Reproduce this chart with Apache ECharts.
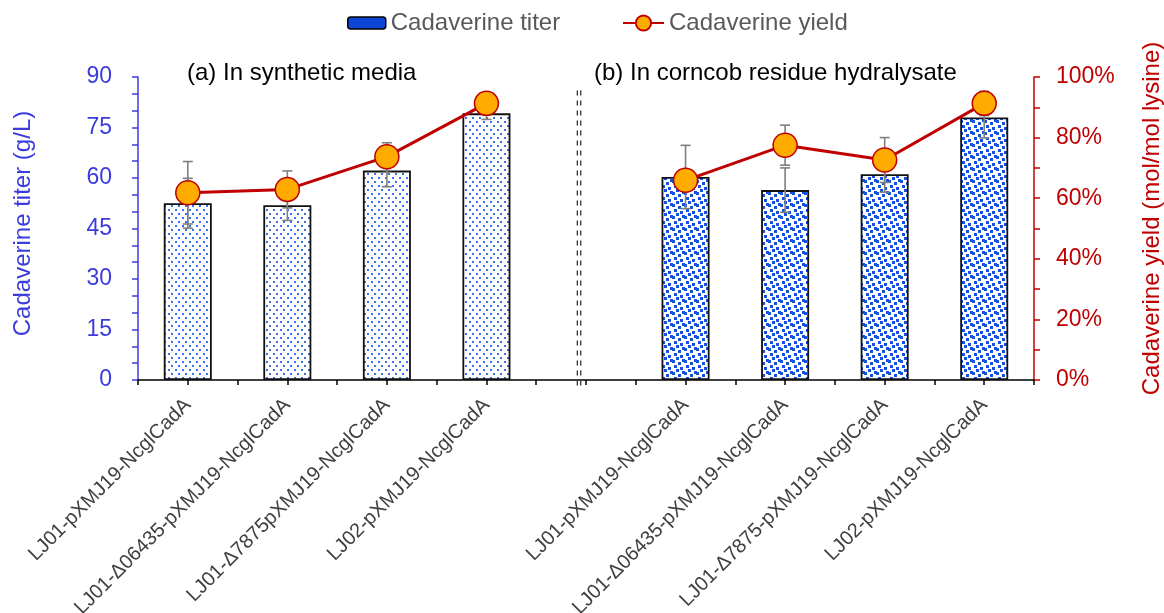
<!DOCTYPE html>
<html>
<head>
<meta charset="utf-8">
<script src="https://cdn.jsdelivr.net/npm/echarts@6/dist/echarts.min.js"></script>
<style>
  html, body { margin: 0; padding: 0; background: #fff; }
  #chart { width: 1164px; height: 613px; }
</style>
</head>
<body>
<div id="chart"></div>
<script>
// Strains: four in synthetic media, a spacer slot, four in corncob residue hydrolysate
const strains = [
  'LJ01-pXMJ19-NcglCadA',
  'LJ01-Δ06435-pXMJ19-NcglCadA',
  'LJ01-Δ7875pXMJ19-NcglCadA',
  'LJ02-pXMJ19-NcglCadA',
  '',
  'LJ01-pXMJ19-NcglCadA',
  'LJ01-Δ06435-pXMJ19-NcglCadA',
  'LJ01-Δ7875-pXMJ19-NcglCadA',
  'LJ02-pXMJ19-NcglCadA'
];
// Cadaverine titer (g/L) and its standard deviation
const titer    = [52.5, 51.9, 62.2, 79.2, null, 60.3, 56.4, 61.1, 78.0];
const titerSd  = [7.4, 4.5, 4.8, 1.8, null, 9.4, 6.6, 5.3, 6.1];
// Cadaverine yield (% mol/mol lysine) and its standard deviation
const yieldPct = [61.8, 62.9, 73.7, 91.3, null, 65.9, 77.5, 72.6, 91.3];
const yieldSd  = [10.3, 6.1, 4.6, 2.0, null, 2.0, 6.6, 7.4, 4.0];
// Axis tick settings
const titerTicks = { min: 0, max: 90, step: 15 };
const yieldTicks = { min: 0, max: 100, step: 20 };
const panelTitles = ['(a) In synthetic media', '(b) In corncob residue hydralysate'];
const seriesNames = ['Cadaverine titer', 'Cadaverine yield'];

const FONT = '"Liberation Sans", Arial, sans-serif';
const BLUE_AXIS = '#3c3cdc';
const RED = '#c00000';

// Fill patterns for the two media groups
function dotPattern() {
  const c = document.createElement('canvas');
  c.width = 14; c.height = 8;
  const g = c.getContext('2d');
  g.fillStyle = '#ffffff'; g.fillRect(0, 0, 14, 8);
  g.fillStyle = '#3a6eea';
  [[0, 1], [7, 1], [3, 5], [10, 5]].forEach(p => g.fillRect(p[0], p[1], 2, 2));
  return c;
}
function confettiPattern() {
  const c = document.createElement('canvas');
  c.width = 12; c.height = 12;
  const g = c.getContext('2d');
  g.fillStyle = '#ffffff'; g.fillRect(0, 0, 12, 12);
  g.fillStyle = '#1550e0';
  [[0, 0], [6, 2], [2, 5], [8, 7], [4, 9], [10, 11]].forEach(p => g.fillRect(p[0], p[1], 3, 3));
  // wrap the last square across the tile edges
  g.fillRect(10, 0, 2, 2); g.fillRect(0, 11, 1, 1); g.fillRect(0, 0, 1, 2);
  return c;
}
const fillA = { image: dotPattern(), repeat: 'repeat' };
const fillB = { image: confettiPattern(), repeat: 'repeat' };

const barData = titer.map((v, i) => ({
  value: v,
  itemStyle: { color: i < 4 ? fillA : fillB }
}));

function errRows(vals, sds) {
  const rows = [];
  vals.forEach((v, i) => { if (v != null) rows.push([i, v - sds[i], v + sds[i]]); });
  return rows;
}

function errorBarItem(params, api) {
  const x = api.value(0);
  const lo = api.coord([x, api.value(1)]);
  const hi = api.coord([x, api.value(2)]);
  const half = 5;
  const style = { stroke: '#7f7f7f', lineWidth: 1.6 };
  return {
    type: 'group',
    children: [
      { type: 'line', shape: { x1: lo[0], y1: lo[1], x2: hi[0], y2: hi[1] }, style },
      { type: 'line', shape: { x1: lo[0] - half, y1: lo[1], x2: lo[0] + half, y2: lo[1] }, style },
      { type: 'line', shape: { x1: hi[0] - half, y1: hi[1], x2: hi[0] + half, y2: hi[1] }, style }
    ]
  };
}

// Double dashed separator between the two panels (spacer slot)
function separatorItem(params, api) {
  const slot = api.value(0);
  const top = api.coord([slot, 86]);
  const base = api.coord([slot, 0]);
  const w = api.size([1, 0])[0];
  const x = top[0] - 0.07 * w;
  const style = { stroke: '#222', lineWidth: 1.2, lineDash: [5, 5] };
  return {
    type: 'group',
    children: [
      { type: 'line', shape: { x1: x - 1.7, y1: top[1], x2: x - 1.7, y2: base[1] + 8 }, style },
      { type: 'line', shape: { x1: x + 1.7, y1: top[1], x2: x + 1.7, y2: base[1] + 8 }, style }
    ]
  };
}

const legendText = { fontSize: 24, color: '#595959', fontFamily: FONT };

const chart = echarts.init(document.getElementById('chart'), null, { renderer: 'canvas' });
chart.setOption({
  animation: false,
  textStyle: { fontFamily: FONT },
  title: [
    { text: panelTitles[0], left: 187, top: 61, padding: 0,
      textStyle: { fontSize: 24, fontWeight: 'normal', color: '#000', fontFamily: FONT } },
    { text: panelTitles[1], left: 594, top: 61, padding: 0,
      textStyle: { fontSize: 24, fontWeight: 'normal', color: '#000', fontFamily: FONT } }
  ],
  legend: [
    {
      top: 11, left: 347, padding: 0,
      itemWidth: 38, itemHeight: 12,
      textStyle: legendText,
      data: [{ name: seriesNames[0], itemStyle: { color: '#0d45d6', borderColor: '#000', borderWidth: 1.5 } }]
    },
    {
      top: 11, left: 622, padding: 0,
      itemWidth: 41, itemHeight: 19,
      textStyle: legendText,
      data: [{ name: seriesNames[1] }]
    }
  ],
  grid: { left: 138, right: 130, top: 77, bottom: 233, containLabel: false, outerBoundsMode: 'none' },
  xAxis: [
    {
      type: 'category', data: strains, position: 'bottom',
      axisLine: { lineStyle: { color: '#000', width: 1.5 } },
      axisTick: { show: false },
      axisLabel: { interval: 0, rotate: 45, fontSize: 20, color: '#404040', margin: 22, fontFamily: FONT }
    },
    {
      // half-slot tick marks along the baseline
      type: 'category', data: strains.flatMap(() => ['', '']), position: 'bottom',
      boundaryGap: true,
      axisLine: { show: false },
      axisTick: { show: true, interval: 0, length: 5, lineStyle: { color: '#000', width: 1.5 } },
      axisLabel: { show: false, interval: 0 }
    }
  ],
  yAxis: [
    {
      type: 'value', position: 'left',
      min: titerTicks.min, max: titerTicks.max, interval: titerTicks.step,
      name: 'Cadaverine titer (g/L)', nameLocation: 'middle', nameGap: 103,
      nameTextStyle: { fontSize: 24, color: BLUE_AXIS, fontFamily: FONT, padding: [0, 0, 0, 10] },
      axisLine: { show: true, lineStyle: { color: BLUE_AXIS, width: 1.5 } },
      axisTick: { show: true, length: 6, lineStyle: { color: BLUE_AXIS, width: 1.5 } },
      minorTick: { show: true, splitNumber: 3, length: 6, lineStyle: { color: BLUE_AXIS, width: 1.5 } },
      splitLine: { show: false },
      axisLabel: { fontSize: 23, color: BLUE_AXIS, margin: 26, fontFamily: FONT }
    },
    {
      type: 'value', position: 'right',
      min: yieldTicks.min, max: yieldTicks.max, interval: yieldTicks.step,
      name: 'Cadaverine yield (mol/mol lysine)', nameLocation: 'middle', nameGap: 106,
      nameTextStyle: { fontSize: 24, color: RED, fontFamily: FONT, padding: [0, 0, 0, 20] },
      axisLine: { show: true, lineStyle: { color: RED, width: 1.5 } },
      axisTick: { show: true, length: 6, lineStyle: { color: RED, width: 1.5 } },
      minorTick: { show: true, splitNumber: 2, length: 6, lineStyle: { color: RED, width: 1.5 } },
      splitLine: { show: false },
      axisLabel: { fontSize: 23, color: RED, margin: 22, formatter: '{value}%', fontFamily: FONT }
    }
  ],
  series: [
    {
      name: seriesNames[0], type: 'bar', xAxisIndex: 0, yAxisIndex: 0,
      data: barData, barWidth: 48, z: 2,
      itemStyle: { borderColor: '#111', borderWidth: 1.8 }
    },
    {
      name: 'titer-sd', type: 'custom', xAxisIndex: 0, yAxisIndex: 0,
      data: errRows(titer, titerSd), encode: { x: 0, y: [1, 2] },
      renderItem: errorBarItem, z: 3, silent: true
    },
    {
      name: 'yield-sd', type: 'custom', xAxisIndex: 0, yAxisIndex: 1,
      data: errRows(yieldPct, yieldSd), encode: { x: 0, y: [1, 2] },
      renderItem: errorBarItem, z: 3, silent: true
    },
    {
      name: seriesNames[1], type: 'line', xAxisIndex: 0, yAxisIndex: 1,
      data: yieldPct, z: 4,
      symbol: 'circle', symbolSize: 24,
      lineStyle: { color: RED, width: 3 },
      itemStyle: { color: '#ffab00', borderColor: RED, borderWidth: 1.5 }
    },
    {
      name: 'separator', type: 'custom', xAxisIndex: 0, yAxisIndex: 0,
      data: [[4]], encode: { x: 0 },
      renderItem: separatorItem, z: 5, silent: true
    }
  ]
});
</script>
</body>
</html>
